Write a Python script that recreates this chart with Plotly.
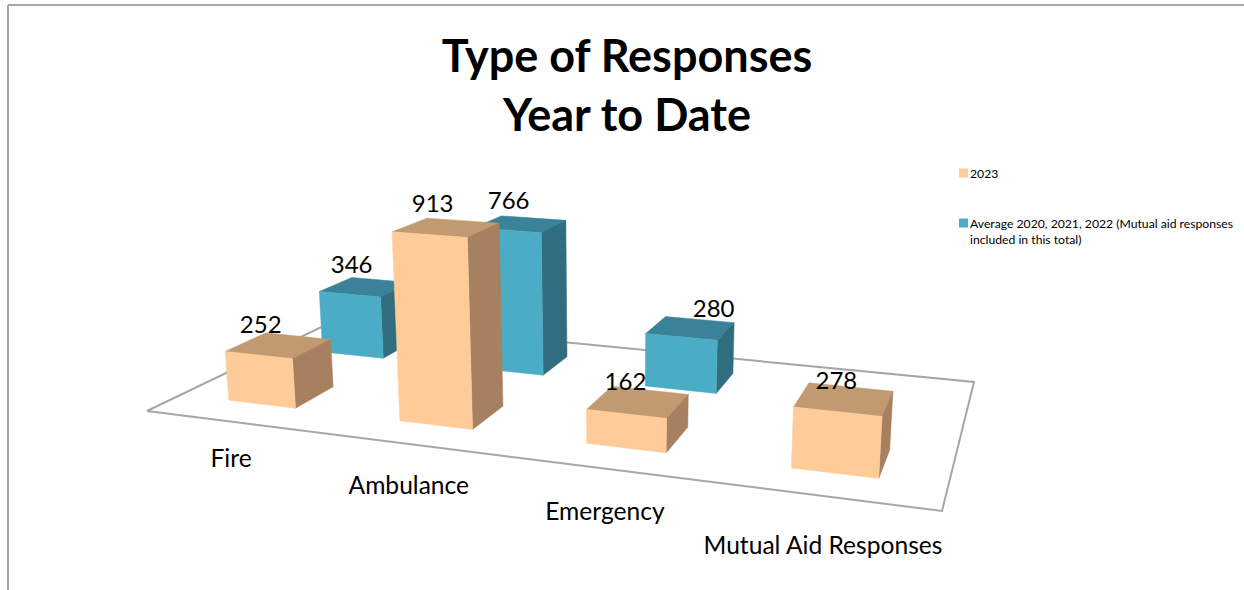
import numpy as np
import plotly.graph_objects as go

# ---------- data ----------
categories = ["Fire", "Ambulance", "Emergency", "Mutual Aid Responses"]
series_2023 = [252, 913, 162, 278]
series_avg = [346, 766, 280, None]
name_2023 = "2023"
name_avg = "Average 2020, 2021, 2022 (Mutual aid responses<br>included in this total)"

# ---------- view of the 3-D box (axis units equal pixels) ----------
FLOOR = [(147, 411), (942, 511), (974, 382), (336, 320)]  # front-left, front-right, back-right, back-left
VERT_VANISH = (610, 5500)
REF_UV, REF_VALUE, REF_HEIGHT = (0.325, 0.15), 913, 189
BAR_HALF_U = 0.05
BAR_SHIFT_U = -0.0015
ROW_V = {"front": 0.25, "back": 0.75}
BAR_HALF_V = 0.10

FONT = "Lato, Carlito, Calibri, sans-serif"
C_2023 = ("#FFCC99", "#C19A72", "#A6805F")  # front, top, side
C_AVG = ("#4BACC6", "#3A8299", "#306E7F")

LABEL_OFF_2023 = [(-19, -18), (-15, -22), (-14, -18), (-9, -16)]
LABEL_OFF_AVG = [(-15, -20), (-13, -21), (22, -17), (0, 0)]
CAT_OFF = [(0, 39), (-2, 44), (-3, 45), (-2, 52)]


def homography(q):
    A, b = [], []
    for (u, v), (x, y) in zip([(0, 0), (1, 0), (1, 1), (0, 1)], q):
        A.append([u, v, 1, 0, 0, 0, -u * x, -v * x]); b.append(x)
        A.append([0, 0, 0, u, v, 1, -u * y, -v * y]); b.append(y)
    s = np.linalg.solve(np.array(A, float), np.array(b, float))
    return np.array([[s[0], s[1], s[2]], [s[3], s[4], s[5]], [s[6], s[7], 1.0]])


H = homography(FLOOR)
_h = H @ np.array([REF_UV[0], REF_UV[1], 1.0])
_target = _h[1] / _h[2] - REF_HEIGHT
K = ((_target * _h[2] - _h[1]) / (VERT_VANISH[1] - _target)) / REF_VALUE


def proj(u, v, z=0.0):
    p = H @ np.array([u, v, 1.0]) + z * K * np.array([VERT_VANISH[0], VERT_VANISH[1], 1.0])
    return p[0] / p[2], p[1] / p[2]


def poly(points, color, name):
    xs, ys = zip(*[proj(*p) for p in points])
    return go.Scatter(x=list(xs) + [xs[0]], y=list(ys) + [ys[0]], mode="lines", fill="toself",
                      fillcolor=color, line=dict(color=color, width=0.5), hoverinfo="skip",
                      name=name, showlegend=False)


fig = go.Figure()

# floor
fx, fy = zip(*[proj(u, v) for u, v in [(0, 0), (1, 0), (1, 1), (0, 1), (0, 0)]])
fig.add_trace(go.Scatter(x=fx, y=fy, mode="lines", line=dict(color="#A6A6A6", width=2),
                         hoverinfo="skip", showlegend=False))


def add_bars(values, row, colors, name):
    v0, v1 = ROW_V[row] - BAR_HALF_V, ROW_V[row] + BAR_HALF_V
    for i, z in enumerate(values):
        if z is None:
            continue
        c = (i + 0.5) / len(categories) + BAR_SHIFT_U
        u0, u1 = c - BAR_HALF_U, c + BAR_HALF_U
        fig.add_trace(poly([(u0, v0, z), (u1, v0, z), (u1, v1, z), (u0, v1, z)], colors[1], name))
        fig.add_trace(poly([(u1, v0, 0), (u1, v1, 0), (u1, v1, z), (u1, v0, z)], colors[2], name))
        fig.add_trace(poly([(u0, v0, 0), (u1, v0, 0), (u1, v0, z), (u0, v0, z)], colors[0], name))


add_bars(series_avg, "back", C_AVG, name_avg)
add_bars(series_2023, "front", C_2023, name_2023)


def add_value_labels(values, row, offs):
    for i, z in enumerate(values):
        if z is None:
            continue
        x, y = proj((i + 0.5) / len(categories), ROW_V[row], z)
        fig.add_trace(go.Scatter(x=[x + offs[i][0]], y=[y + offs[i][1]], mode="text", text=[str(z)],
                                 textposition="middle center", hoverinfo="skip", showlegend=False,
                                 textfont=dict(family=FONT, size=24, color="#000000")))


add_value_labels(series_avg, "back", LABEL_OFF_AVG)
add_value_labels(series_2023, "front", LABEL_OFF_2023)

# category labels along the front edge
for i, cat in enumerate(categories):
    x, y = proj((i + 0.5) / len(categories), 0)
    fig.add_trace(go.Scatter(x=[x + CAT_OFF[i][0]], y=[y + CAT_OFF[i][1]], mode="text", text=[cat],
                             textposition="middle center", hoverinfo="skip", showlegend=False,
                             textfont=dict(family=FONT, size=24.6, color="#000000")))

# legend
for (ly, name, col) in [(173, name_2023, C_2023[0]), (223, name_avg, C_AVG[0])]:
    fig.add_trace(go.Scatter(x=[963.5], y=[ly], mode="markers", showlegend=False, hoverinfo="skip",
                             marker=dict(symbol="square", size=9, color=col, line=dict(width=0))))
    fig.add_annotation(x=968, y=ly - 9.5, xref="x", yref="y", text=name, showarrow=False, xanchor="left",
                       yanchor="top", align="left", font=dict(family=FONT, size=12.2, color="#000000"))

fig.update_layout(
    width=1244, height=590, autosize=False,
    margin=dict(l=0, r=0, t=0, b=0),
    paper_bgcolor="#FFFFFF", plot_bgcolor="#FFFFFF",
    xaxis=dict(range=[0, 1244], visible=False, fixedrange=True),
    yaxis=dict(range=[590, 0], visible=False, fixedrange=True),
    title=dict(text="<b>Type of Responses<br>Year to Date</b>", x=627 / 1244, xanchor="center",
               y=1 - 72 / 590, yanchor="top", font=dict(family=FONT, size=45, color="#000000")),
    shapes=[dict(type="line", xref="x", yref="y", x0=8, x1=1244, y0=5, y1=5, line=dict(color="#A6A6A6", width=2)),
            dict(type="line", xref="x", yref="y", x0=8, x1=8, y0=5, y1=590, line=dict(color="#A6A6A6", width=2))],
)

fig.write_html("out.html", config=dict(displayModeBar=False),
               post_script="document.body.style.margin='0';document.documentElement.style.overflow='hidden';")
